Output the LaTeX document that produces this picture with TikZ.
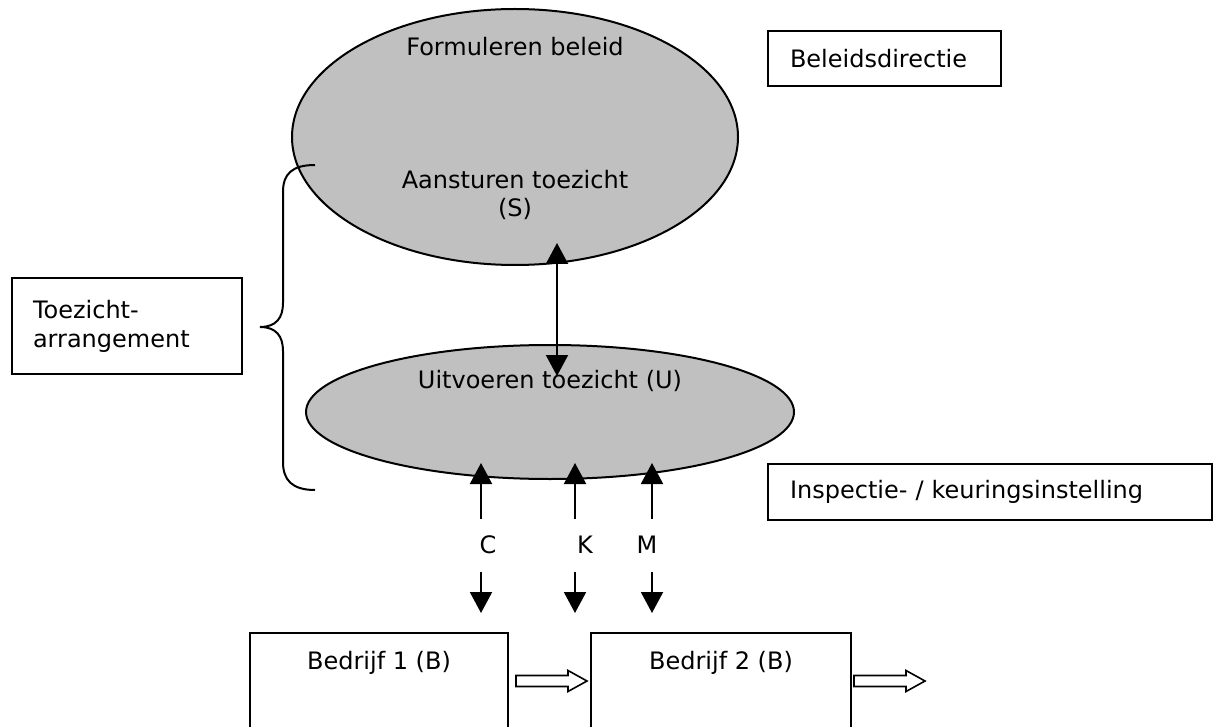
\documentclass[tikz,border=0pt]{standalone}
\usepackage{fontspec}
\setmainfont{DejaVu Sans}
\usetikzlibrary{shapes.geometric,arrows.meta}
\definecolor{ovalgray}{RGB}{192,192,192}
\begin{document}
\begin{tikzpicture}[x=0.5pt,y=-0.5pt,
font=\fontsize{12}{14.5}\selectfont,
oval/.style={ellipse,draw,line width=1pt,fill=ovalgray,inner sep=0pt},
labelbox/.style={draw,rectangle,line width=1pt,inner ysep=0pt,align=left},
firmbox/.style={draw,rectangle,line width=1pt,inner sep=0pt},
tip/.style={line width=1pt,-{Triangle[width=11pt,length=10.5pt]}},
dtip/.style={line width=1pt,{Triangle[width=11pt,length=10.5pt]}-{Triangle[width=11pt,length=10.5pt]}},
hollow/.style={draw,line width=0.8pt,fill=white}]
\useasboundingbox (0,0) rectangle (1215,727);
% ovals
\node[oval,minimum width=223pt,minimum height=128pt] (sturen) at (515,137) {};
\node[oval,minimum width=244pt,minimum height=67pt] (uitvoer) at (550,412) {};
\node[anchor=base] (formul) at (515,56) {Formuleren beleid};
\node[anchor=base] (aanst) at (515,189) {Aansturen toezicht};
\node[anchor=base] (S) at (515,217) {(S)};
\node[anchor=base] (U) at (550,388) {Uitvoeren toezicht (U)};
% boxes
\node[labelbox,minimum width=116.5pt,minimum height=27.5pt,text width=94.5pt,inner xsep=11pt] (beleid) at (884.5,58.5) {Beleidsdirectie};
\node[labelbox,minimum width=115pt,minimum height=48pt,text width=94pt,inner xsep=10.5pt] (arr) at (127,326) {Toezicht-\\arrangement};
\node[labelbox,minimum width=222pt,minimum height=28pt,text width=200pt,inner xsep=11pt] (insp) at (990,492) {Inspectie- / keuringsinstelling};
\node[firmbox,minimum width=129pt,minimum height=63.5pt] (b1) at (379,696.5) {};
\node[firmbox,minimum width=130pt,minimum height=63.5pt] (b2) at (721,696.5) {};
\node[anchor=base] (b1t) at (379,669) {Bedrijf 1 (B)};
\node[anchor=base] (b2t) at (721,669) {Bedrijf 2 (B)};
% double arrow
\coordinate (dtop) at (557,243);
\coordinate (dbot) at (557,376);
\draw[dtip] (dtop) -- (dbot);
% C K M
\foreach \x/\lx/\t in {481/488/C,575/585/K,652/647/M}{
  \node[anchor=base] (l\t) at (\lx,553) {\t};
  \coordinate (u\t) at (\x,519);
  \coordinate (v\t) at (\x,463);
  \coordinate (w\t) at (\x,572);
  \coordinate (z\t) at (\x,613);
  \draw[tip] (u\t) -- (v\t);
  \draw[tip] (w\t) -- (z\t);
}
% brace
\draw[line width=1pt] (315,165) .. controls (292,165) and (283,174) .. (283,192) -- (283,303)
  .. controls (283,318) and (276,327) .. (260,327) .. controls (276,327) and (283,336) .. (283,351)
  -- (283,462) .. controls (283,480) and (292,490) .. (315,490);
% hollow arrows
\coordinate (h1) at (516,681);
\coordinate (h2) at (854,681);
\foreach \h in {h1,h2}
  \draw[hollow] (\h) ++(0,-5.5) -- ++(52,0) -- ++(0,-5) -- ++(19,10.5) -- ++(-19,10.5) -- ++(0,-5) -- ++(-52,0) -- cycle;
\end{tikzpicture}
\end{document}
